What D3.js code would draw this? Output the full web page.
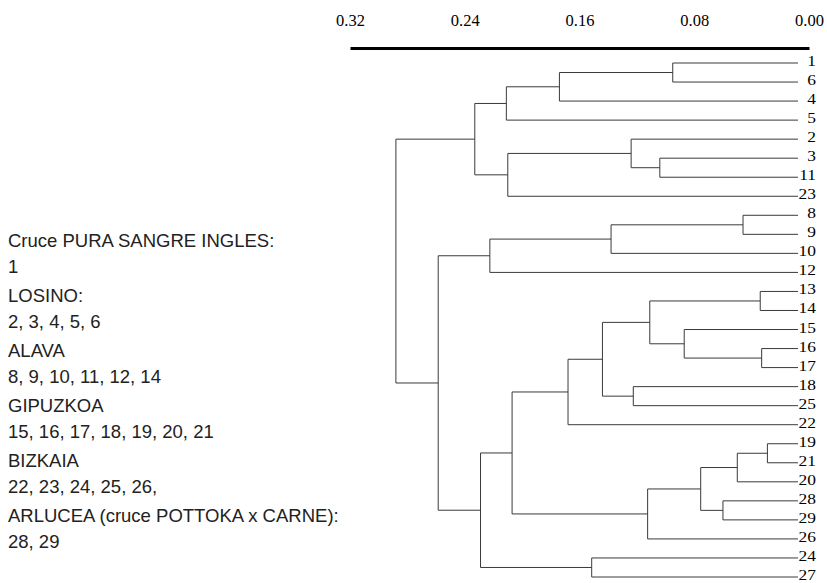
<!DOCTYPE html>
<html>
<head>
<meta charset="utf-8">
<script src="https://cdn.jsdelivr.net/npm/d3@7"></script>
<style>
  body { margin: 0; background: #fff; }
  svg { display: block; }
</style>
</head>
<body>
<svg id="chart" width="827" height="583"></svg>
<script>
// leaves top to bottom
const leafOrder = ["1","6","4","5","2","3","11","23","8","9","10","12","13","14",
                   "15","16","17","18","25","22","19","21","20","28","29","26","24","27"];

// merges: [child a, child b, height]; "mN" refers to merge N
const merges = [
  ["1", "6", 0.095],    // m0
  ["m0", "4", 0.174],   // m1
  ["m1", "5", 0.211],   // m2
  ["3", "11", 0.104],   // m3
  ["2", "m3", 0.124],   // m4
  ["m4", "23", 0.210],  // m5
  ["m2", "m5", 0.233],  // m6
  ["8", "9", 0.046],    // m7
  ["m7", "10", 0.138],  // m8
  ["m8", "12", 0.2225], // m9
  ["13", "14", 0.034],  // m10
  ["16", "17", 0.033],  // m11
  ["15", "m11", 0.087], // m12
  ["m10", "m12", 0.111],// m13
  ["18", "25", 0.1225], // m14
  ["m13", "m14", 0.144],// m15
  ["m15", "22", 0.168], // m16
  ["19", "21", 0.029],  // m17
  ["m17", "20", 0.050], // m18
  ["28", "29", 0.060],  // m19
  ["m18", "m19", 0.0755],// m20
  ["m20", "26", 0.1125],// m21
  ["m16", "m21", 0.207],// m22
  ["24", "27", 0.1515], // m23
  ["m22", "m23", 0.229],// m24
  ["m9", "m24", 0.2585],// m25
  ["m6", "m25", 0.288]  // m26
];

const tickValues = [0.32, 0.24, 0.16, 0.08, 0.00];

const groupNames = ["Cruce PURA SANGRE INGLES:", "LOSINO:", "ALAVA", "GIPUZKOA",
                    "BIZKAIA", "ARLUCEA (cruce POTTOKA x CARNE):"];
const groupMembers = ["1", "2, 3, 4, 5, 6", "8, 9, 10, 11, 12, 14",
                      "15, 16, 17, 18, 19, 20, 21", "22, 23, 24, 25, 26,", "28, 29"];

const svg = d3.select("#chart");

const x = d3.scaleLinear().domain([0.32, 0]).range([350, 809]);
const y = d3.scalePoint().domain(leafOrder).range([63, 577]);
const leafEnd = x(0) - 11;

// axis on top
const axis = d3.axisTop(x)
  .tickValues(tickValues)
  .tickFormat(d3.format(".2f"))
  .tickSize(0)
  .tickPadding(22);

const gAxis = svg.append("g")
  .attr("transform", "translate(0,48)")
  .call(axis);
gAxis.select(".domain")
  .attr("stroke", "#000")
  .attr("stroke-width", 3);
gAxis.selectAll("text")
  .attr("font-family", "Liberation Serif, serif")
  .attr("font-size", 16.5)
  .attr("fill", "#000");

// positions of leaves and merge nodes
const nodes = {};
leafOrder.forEach(l => { nodes[l] = { px: leafEnd, py: y(l) }; });
merges.forEach((m, i) => {
  const a = nodes[m[0]], b = nodes[m[1]];
  nodes["m" + i] = { px: x(m[2]), py: (a.py + b.py) / 2, a: a, b: b };
});

const tree = svg.append("g")
  .attr("fill", "none")
  .attr("stroke", "#3a3a3a")
  .attr("stroke-width", 1);

tree.selectAll("path")
  .data(merges.map((m, i) => nodes["m" + i]))
  .join("path")
  .attr("d", n => `M${n.a.px},${n.a.py}H${n.px}V${n.b.py}H${n.b.px}`);

// leaf labels
svg.append("g").selectAll("text")
  .data(leafOrder)
  .join("text")
  .attr("transform", d => `translate(816,${y(d) + 3}) scale(1.2,1)`)
  .attr("text-anchor", "end")
  .attr("font-family", "Liberation Serif, serif")
  .attr("font-size", 14.5)
  .attr("fill", "#000")
  .text(d => d);

// group notes on the left
const gy = d3.scalePoint().domain(groupNames).range([247, 522]);
const notes = svg.append("g")
  .attr("font-family", "Liberation Sans, Arial, sans-serif")
  .attr("font-size", 18.5)
  .attr("fill", "#222");

notes.selectAll("text.name")
  .data(groupNames)
  .join("text")
  .attr("class", "name")
  .attr("x", 8)
  .attr("y", d => gy(d))
  .text(d => d);

notes.selectAll("text.members")
  .data(groupMembers)
  .join("text")
  .attr("class", "members")
  .attr("x", 8)
  .attr("y", (d, i) => gy(groupNames[i]) + 26)
  .text(d => d);
</script>
</body>
</html>
